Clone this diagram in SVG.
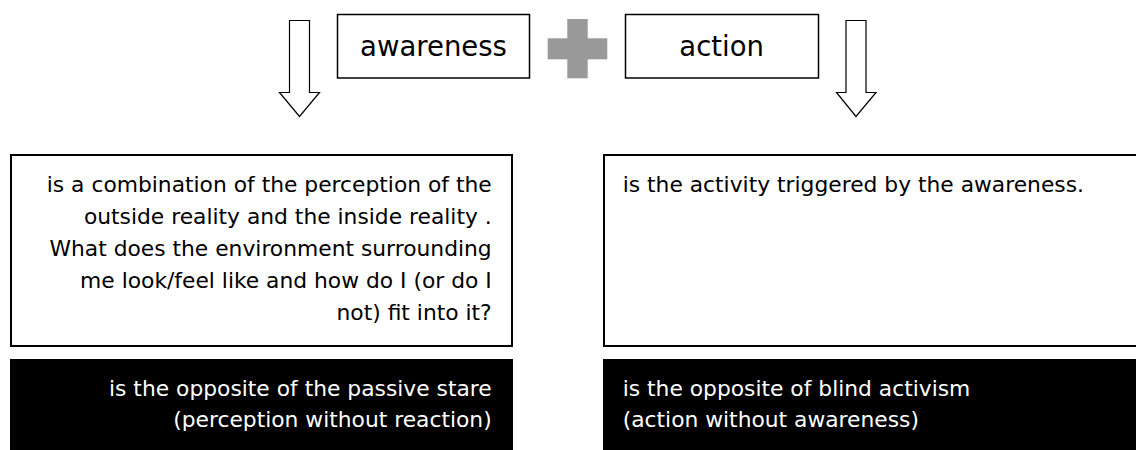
<svg xmlns="http://www.w3.org/2000/svg" width="1136" height="450" viewBox="0 0 1136 450">
<style>
.t{font-family:"DejaVu Sans",Verdana,sans-serif;fill:#000}
.head{font-size:27.5px;text-anchor:middle}
.body{font-size:21.8px}
.end{text-anchor:end}
.w{fill:#fff}
.box{fill:#fff;stroke:#000;stroke-width:1.5}
.big{fill:#fff;stroke:#000;stroke-width:2}
.blk{fill:#000}
.arrow{fill:#fff;stroke:#000;stroke-width:1.2;stroke-linejoin:miter}
</style>
<rect width="1136" height="450" fill="#fff"/>
<g id="connectors">
<path class="arrow" d="M289.5,20.5 H309.5 V92.5 H319.5 L299.5,116.5 L279.5,92.5 H289.5 Z"/>
<path class="arrow" d="M846,20.5 H866 V92.5 H876 L856,116.5 L836.5,92.5 H846 Z"/>
</g>
<g id="awareness">
<rect class="box" x="337.5" y="14.5" width="192" height="63.5"/>
<text class="t head" x="433.5" y="55.5">awareness</text>
</g>
<g id="plus">
<rect x="547.7" y="38.3" width="59.6" height="21" fill="#999"/>
<rect x="567.3" y="19" width="20.4" height="59.3" fill="#999"/>
</g>
<g id="action">
<rect class="box" x="625.5" y="14.5" width="193" height="63.5"/>
<text class="t head" x="721.7" y="55.5">action</text>
</g>
<g id="awareness-desc">
<rect class="big" x="11" y="155" width="501" height="191"/>
<text class="t body end" x="491.7" y="192">is a combination of the perception of the</text>
<text class="t body end" x="491.7" y="224">outside reality and the inside reality .</text>
<text class="t body end" x="491.7" y="256">What does the environment surrounding</text>
<text class="t body end" x="491.7" y="288">me look/feel like and how do I (or do I</text>
<text class="t body end" x="491.7" y="320">not) fit into it?</text>
</g>
<g id="awareness-opposite">
<rect class="blk" x="10" y="359" width="503" height="91"/>
<text class="t body end w" x="491.7" y="395.5">is the opposite of the passive stare</text>
<text class="t body end w" x="491.7" y="426.5">(perception without reaction)</text>
</g>
<g id="action-desc">
<rect class="big" x="604" y="155" width="540" height="191"/>
<text class="t body" x="622.7" y="192">is the activity triggered by the awareness.</text>
</g>
<g id="action-opposite">
<rect class="blk" x="603" y="359" width="533" height="91"/>
<text class="t body w" x="622.7" y="395.5">is the opposite of blind activism</text>
<text class="t body w" x="622.7" y="426.5">(action without awareness)</text>
</g>
</svg>
